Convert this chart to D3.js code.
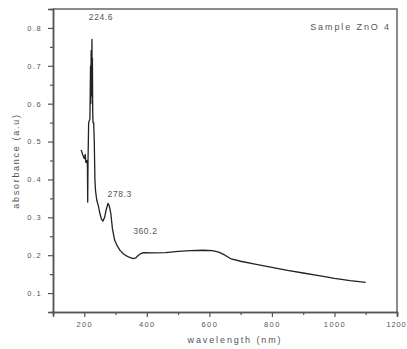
<!DOCTYPE html>
<html>
<head>
<meta charset="utf-8">
<script src="https://cdn.jsdelivr.net/npm/d3@7"></script>
<style>
  body { margin: 0; background: #fff; }
  text { font-family: "Liberation Sans", Arial, sans-serif; fill: #555; }
</style>
</head>
<body>
<div id="chart"></div>
<script>
//config
var WD = 407, HT = 349
var margin = { left: 53, right: 10, top: 9, bottom: 37 }

// spectrum values
var wavelength = [190, 195, 200, 203, 205, 208, 210, 211, 212, 214, 218, 220, 221, 222, 223, 224.6, 225, 226, 227, 228, 230, 232, 233, 234, 236, 240, 245, 250, 255, 260, 265, 270, 276, 280, 285, 290, 297, 305, 315, 325, 335, 345, 356, 365, 372, 380, 390, 420, 460, 500, 540, 580, 610, 630, 650, 670, 700, 750, 800, 850, 900, 950, 1000, 1050, 1100]
var absorbance = [0.478, 0.465, 0.455, 0.466, 0.445, 0.45, 0.44, 0.34, 0.45, 0.55, 0.56, 0.70, 0.60, 0.74, 0.62, 0.77, 0.65, 0.72, 0.58, 0.55, 0.55, 0.50, 0.45, 0.40, 0.37, 0.345, 0.33, 0.31, 0.295, 0.29, 0.30, 0.32, 0.337, 0.33, 0.31, 0.27, 0.24, 0.225, 0.212, 0.204, 0.198, 0.194, 0.191, 0.193, 0.199, 0.204, 0.207, 0.206, 0.207, 0.21, 0.212, 0.213, 0.212, 0.208, 0.20, 0.19, 0.184, 0.176, 0.168, 0.16, 0.153, 0.146, 0.139, 0.133, 0.128]

var peakLabels = ["224.6", "278.3", "360.2"]
var peakAt = [224.6, 278.3, 360.2]
var peakY = [0.82, 0.354, 0.255]

var xTicks = [200, 400, 600, 800, 1000, 1200]
var yTicks = [0.1, 0.2, 0.3, 0.4, 0.5, 0.6, 0.7, 0.8]

var x = d3.scaleLinear().domain([100, 1200]).range([margin.left, WD - margin.right])
var y = d3.scaleLinear().domain([0.05, 0.85]).range([HT - margin.bottom, margin.top])

var svg = d3.select("#chart").append("svg")
    .attr("width", WD)
    .attr("height", HT)

// frame (top and right)
svg.append("path")
    .attr("d", "M" + x(100) + "," + y(0.85) + "H" + x(1200) + "V" + y(0.05))
    .attr("fill", "none")
    .attr("stroke", "#666")
    .attr("stroke-width", 1.5)

// x axis
var xAxis = svg.append("g")
    .attr("transform", "translate(0," + y(0.05) + ")")
    .call(d3.axisBottom(x).tickValues(xTicks).tickSize(5).tickPadding(5).tickFormat(d3.format("d")))
xAxis.append("g").call(d3.axisBottom(x).tickValues([300, 500, 700, 900, 1100]).tickSize(3).tickFormat(""))

// y axis
var yAxis = svg.append("g")
    .attr("transform", "translate(" + x(100) + ",0)")
    .call(d3.axisLeft(y).tickValues(yTicks).tickSize(5).tickPadding(6).tickFormat(d3.format(".1f")))
yAxis.append("g").call(d3.axisLeft(y).tickValues([0.15, 0.25, 0.35, 0.45, 0.55, 0.65, 0.75]).tickSize(3).tickFormat(""))

svg.selectAll(".domain").attr("stroke", "#555").attr("stroke-width", 1.5)
svg.selectAll(".tick line").attr("stroke", "#555").attr("stroke-width", 1.2)
svg.selectAll(".tick text")
    .attr("font-size", 7.5)
    .attr("letter-spacing", 1.4)
    .attr("fill", "#555")
    .attr("font-family", "Liberation Sans, Arial, sans-serif")

// last x label sits at the window edge, keep it inside
xAxis.selectAll(".tick text")
    .filter(function(d) { return d == 1200; })
    .attr("text-anchor", "end")
    .attr("x", WD - 1 - x(1200))
    .attr("letter-spacing", 0.8)

// axis titles
svg.append("text")
    .attr("x", 235).attr("y", 343)
    .attr("text-anchor", "middle")
    .attr("font-size", 9)
    .attr("letter-spacing", 1.9)
    .text("wavelength (nm)")

svg.append("text")
    .attr("transform", "translate(19,161) rotate(-90)")
    .attr("text-anchor", "middle")
    .attr("font-size", 9)
    .attr("letter-spacing", 1.7)
    .text("absorbance (a.u)")

// spectrum
var line = d3.line()
    .x(function(d, i) { return x(wavelength[i]); })
    .y(function(d) { return y(d); })

svg.append("path")
    .datum(absorbance)
    .attr("d", line)
    .attr("fill", "none")
    .attr("stroke", "#222")
    .attr("stroke-width", 1.3)
    .attr("stroke-linejoin", "round")

// peak labels
svg.selectAll(".peak")
    .data(peakLabels)
    .enter().append("text")
    .attr("class", "peak")
    .attr("x", function(d, i) { return x(peakAt[i]) + (i == 0 ? 9 : 11); })
    .attr("y", function(d, i) { return y(peakY[i]); })
    .attr("text-anchor", "middle")
    .attr("font-size", 8.5)
    .attr("letter-spacing", 0.6)
    .text(function(d) { return d; })

svg.append("text")
    .attr("x", 391).attr("y", 30)
    .attr("text-anchor", "end")
    .attr("font-size", 9)
    .attr("letter-spacing", 1.9)
    .text("Sample ZnO 4")
</script>
</body>
</html>
